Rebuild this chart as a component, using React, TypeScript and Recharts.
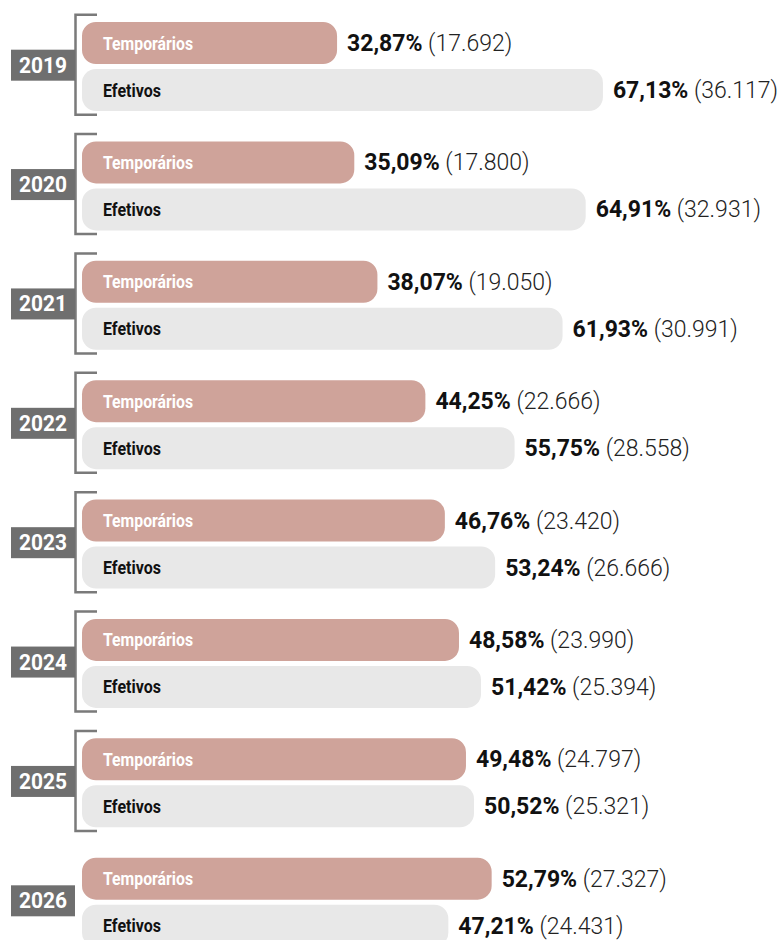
import React from "react";
import { BarChart, Bar, XAxis, YAxis, LabelList } from "recharts";

const years = ["2019", "2020", "2021", "2022", "2023", "2024", "2025", "2026"];
const tempPct = [32.87, 35.09, 38.07, 44.25, 46.76, 48.58, 49.48, 52.79];
const tempCount = [17692, 17800, 19050, 22666, 23420, 23990, 24797, 27327];
const efetPct = [67.13, 64.91, 61.93, 55.75, 53.24, 51.42, 50.52, 47.21];
const efetCount = [36117, 32931, 30991, 28558, 26666, 25394, 25321, 24431];
const seriesNames = ["Temporários", "Efetivos"];

const fmtPct = (v: number) => v.toFixed(2).replace(".", ",") + "%";
const fmtCount = (v: number) =>
  String(v).replace(/\B(?=(\d{3})+(?!\d))/g, ".");

const data = years.map((y, i) => ({
  year: y,
  temp: tempPct[i],
  efet: efetPct[i],
  tempCount: tempCount[i],
  efetCount: efetCount[i],
}));

const FONT = "Roboto, 'Noto Sans', sans-serif";

const YearTick = (props: any) => {
  const { y, payload, index } = props;
  const c = y;
  const showBracket = index < years.length - 1;
  return (
    <g>
      {showBracket && (
        <path
          d={`M97 ${c - 52} H75.5 V${c + 48} H97`}
          fill="none"
          stroke="#7a7a7a"
          strokeWidth={2.5}
        />
      )}
      <rect x={11} y={c - 17} width={64} height={31} fill="#6f6f6f" />
      <text
        x={43}
        y={c - 1.5}
        textAnchor="middle"
        dominantBaseline="central"
        fill="#ffffff"
        fontFamily={FONT}
        fontWeight={700}
        fontSize={22}
        textLength={48}
        lengthAdjust="spacingAndGlyphs"
      >
        {payload.value}
      </text>
    </g>
  );
};

const makeValueLabel = (pcts: number[], counts: number[]) => (props: any) => {
  const { x, y, width, height, index } = props;
  const cx = Number(x) + Number(width) + 10;
  const cy = Number(y) + Number(height) / 2;
  return (
    <text
      x={cx}
      y={cy}
      dominantBaseline="central"
      fontFamily={FONT}
      fontSize={23}
      fill="#111"
    >
      <tspan fontWeight={700}>{fmtPct(pcts[index])}</tspan>
      <tspan fontWeight={300} fill="#222">
        {" (" + fmtCount(counts[index]) + ")"}
      </tspan>
    </text>
  );
};

const makeNameLabel = (name: string, color: string, len: number) => (props: any) => {
  const { x, y, height } = props;
  return (
    <text
      x={Number(x) + 21}
      y={Number(y) + Number(height) / 2}
      dominantBaseline="central"
      fontFamily={FONT}
      fontWeight={700}
      fontSize={19}
      fill={color}
      textLength={len}
      lengthAdjust="spacingAndGlyphs"
    >
      {name}
    </text>
  );
};

export default function App() {
  return (
    <div
      style={{
        position: "absolute",
        left: 0,
        top: 0,
        width: 778,
        height: 940,
        overflow: "hidden",
        background: "#fff",
      }}
    >
      <BarChart
        layout="vertical"
        width={778}
        height={962}
        data={data}
        margin={{ top: 7, right: 0, bottom: 0, left: 0 }}
        barGap={5}
      >
        <XAxis type="number" hide domain={[0, 89.69]} />
        <YAxis
          type="category"
          dataKey="year"
          width={82}
          axisLine={false}
          tickLine={false}
          tick={<YearTick />}
          interval={0}
        />
        <Bar
          dataKey="temp"
          fill="#cfa39a"
          barSize={42}
          radius={14}
          isAnimationActive={false}
        >
          <LabelList dataKey="temp" content={makeNameLabel(seriesNames[0], "#ffffff", 90)} />
          <LabelList dataKey="temp" content={makeValueLabel(tempPct, tempCount)} />
        </Bar>
        <Bar
          dataKey="efet"
          fill="#e8e8e8"
          barSize={42}
          radius={14}
          isAnimationActive={false}
        >
          <LabelList dataKey="efet" content={makeNameLabel(seriesNames[1], "#111111", 58)} />
          <LabelList dataKey="efet" content={makeValueLabel(efetPct, efetCount)} />
        </Bar>
      </BarChart>
    </div>
  );
}
